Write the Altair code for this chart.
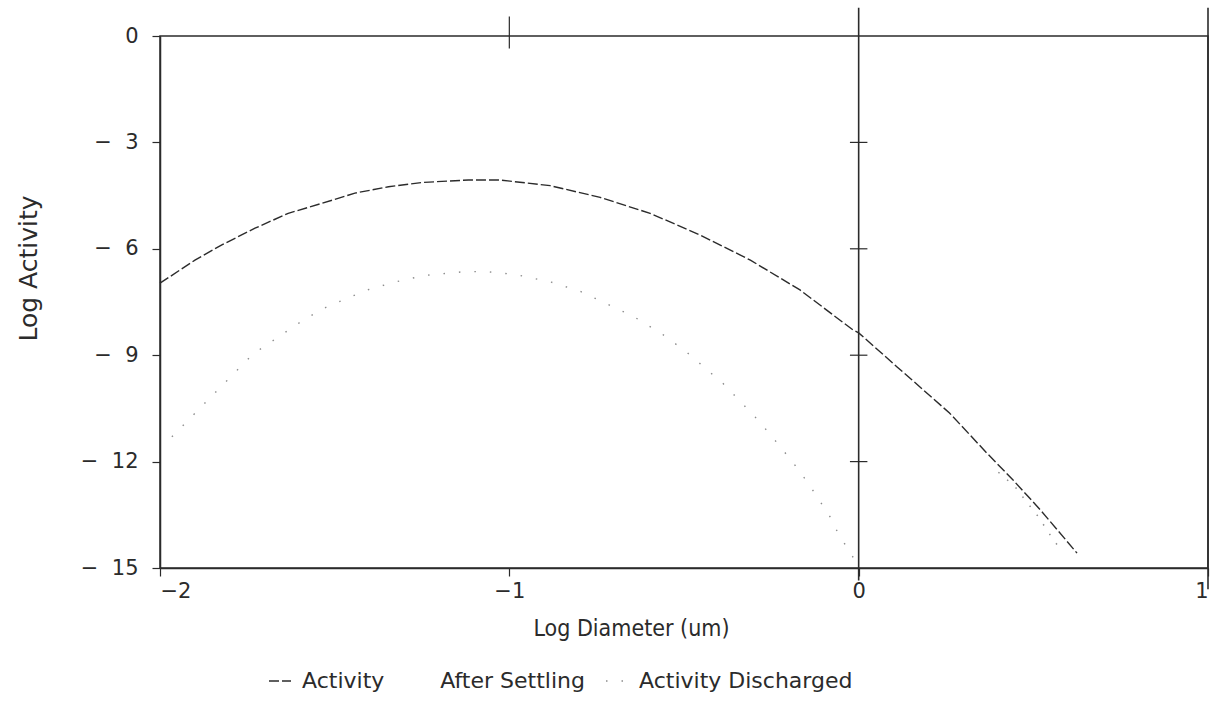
import altair as alt
import pandas as pd

# Activity after settling (dashed)
act_x = [-2.0, -1.90, -1.823, -1.728, -1.633, -1.537, -1.442, -1.346, -1.25, -1.117,
         -1.027, -0.883, -0.74, -0.597, -0.454, -0.31, -0.168, -0.016, 0.0, 0.11,
         0.153, 0.26, 0.367, 0.442, 0.52, 0.625]
act_y = [-6.97, -6.32, -5.89, -5.42, -5.0, -4.72, -4.43, -4.25, -4.13, -4.06,
         -4.06, -4.22, -4.55, -5.0, -5.61, -6.32, -7.16, -8.29, -8.37, -9.33,
         -9.7, -10.63, -11.76, -12.52, -13.36, -14.58]

# Activity discharged (dotted)
dis_x = [-1.966, -1.734, -1.585, -1.525, -1.41, -1.329, -1.242, -1.134, -1.072, -0.985,
         -0.88, -0.797, -0.646, -0.563, -0.494, -0.388, -0.3, -0.256, -0.19, -0.145,
         -0.079, -0.06, -0.016]
dis_y = [-11.3, -8.97, -7.98, -7.65, -7.17, -6.94, -6.75, -6.65, -6.64, -6.72,
         -6.94, -7.2, -7.9, -8.4, -8.9, -9.8, -10.7, -11.2, -12.0, -12.6,
         -13.6, -14.0, -14.7]

# unlabeled dotted tail beside the dashed curve
tail_x = [0.4, 0.447, 0.47, 0.514, 0.537, 0.557, 0.58]
tail_y = [-12.3, -12.7, -13.0, -13.55, -13.9, -14.2, -14.5]

NB = "\u00a0"
series_names = ["Activity" + NB * 8 + "After Settling", "Activity Discharged"]

x_ticks = [-2, -1, 0, 1]
y_ticks = [0, -3, -6, -9, -12, -15]

# frame decorations
vline_x = [0, 1]
vline_top = [0.8, 0.8]
vline_bot = [-15.35, -15.6]
cross_y = [-3, -6, -9, -12]
top_cross_x = [-1]

FONT = "DejaVu Sans"
COND = "DejaVu Sans Condensed, DejaVu Sans"
INK = "#2b2b2b"

df = pd.concat([
    pd.DataFrame({"x": act_x, "y": act_y, "series": series_names[0]}),
    pd.DataFrame({"x": dis_x, "y": dis_y, "series": series_names[1]}),
])

xscale = alt.Scale(domain=[-2, 1], nice=False, zero=False)
yscale = alt.Scale(domain=[-15, 0], nice=False, zero=False)

legend = alt.Legend(title=None, orient="none", legendX=108, legendY=633,
                    direction="horizontal", symbolType="stroke", symbolSize=484,
                    symbolStrokeWidth=1.5, labelFontSize=22, labelFont=FONT,
                    labelColor=INK, columnPadding=18, labelOffset=10, labelLimit=0)

lines = alt.Chart(df).mark_line(strokeWidth=1.4).encode(
    x=alt.X("x:Q", scale=xscale, title="Log Diameter (um)",
            axis=alt.Axis(values=x_ticks, grid=False, tickSize=8, labelPadding=4,
                          labelExpr="datum.value < 0 ? '\u2212' + abs(datum.value) : datum.value",
                          titlePadding=16, titleX=471, titleFontSize=23, titleFont=COND)),
    y=alt.Y("y:Q", scale=yscale, title="Log Activity",
            axis=alt.Axis(values=y_ticks, grid=False, tickSize=8, labelPadding=14,
                          labelExpr="datum.value == 0 ? '0' : '\u2212\u00a0\u00a0' + abs(datum.value)",
                          titleX=-119, titleY=232, titleFontSize=25)),
    color=alt.Color("series:N", scale=alt.Scale(domain=series_names, range=[INK, "#8c8c8c"]),
                    legend=legend),
    strokeDash=alt.StrokeDash("series:N",
                              scale=alt.Scale(domain=series_names, range=[[10, 3], [1.5, 14]]),
                              legend=legend),
)

tail = alt.Chart(pd.DataFrame({"x": tail_x, "y": tail_y})).mark_line(
    strokeWidth=1.5, strokeDash=[1.5, 10], color="#8c8c8c"
).encode(x=alt.X("x:Q", scale=xscale), y=alt.Y("y:Q", scale=yscale))

vlines = alt.Chart(pd.DataFrame({"x": vline_x, "y": vline_top, "y2": vline_bot})).mark_rule(
    color=INK, strokeWidth=1.6
).encode(x=alt.X("x:Q", scale=xscale), y=alt.Y("y:Q", scale=yscale), y2="y2:Q")

crosses = alt.Chart(pd.DataFrame({"y": cross_y, "x": [-0.025] * 4, "x2": [0.025] * 4})).mark_rule(
    color=INK, strokeWidth=1.2
).encode(x=alt.X("x:Q", scale=xscale), x2="x2:Q", y=alt.Y("y:Q", scale=yscale))

topcross = alt.Chart(pd.DataFrame({"x": top_cross_x, "y": [0.55], "y2": [-0.35]})).mark_rule(
    color=INK, strokeWidth=1.2
).encode(x=alt.X("x:Q", scale=xscale), y=alt.Y("y:Q", scale=yscale), y2="y2:Q")

chart = alt.layer(lines, tail, vlines, crosses, topcross).properties(
    width=1048, height=532,
    autosize=alt.AutoSizeParams(type="none"),
    padding={"left": 160, "top": 36, "right": 8, "bottom": 141},
    background="white",
).configure_view(
    stroke=INK, strokeWidth=1.5
).configure_axis(
    labelFont=FONT, labelFontSize=21, labelColor=INK, labelFontWeight="normal",
    titleFont=FONT, titleFontSize=22, titleColor=INK, titleFontWeight="normal",
    domainColor=INK, domainWidth=1.5, tickColor=INK, tickWidth=1.2,
)

chart.save("out.html", embed_options={"renderer": "svg", "actions": False})
